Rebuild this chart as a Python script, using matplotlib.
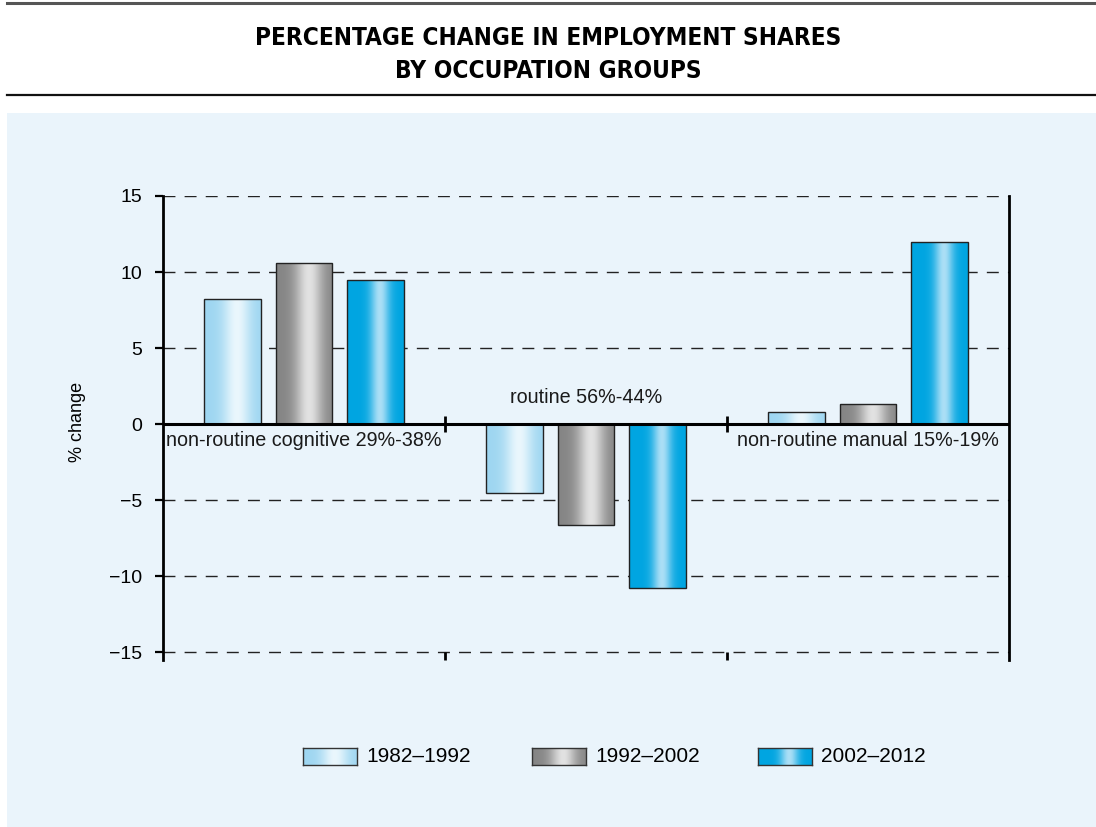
import numpy as np
import matplotlib
matplotlib.use("Agg")
import matplotlib.pyplot as plt
from matplotlib.lines import Line2D
from matplotlib.patches import Rectangle

# ---- data -------------------------------------------------------------
categories = ["non-routine cognitive 29%-38%", "routine 56%-44%",
              "non-routine manual 15%-19%"]
series = ["1982–1992", "1992–2002", "2002–2012"]
v_1982_1992 = [8.2, -4.5, 0.8]
v_1992_2002 = [10.6, -6.6, 1.3]
v_2002_2012 = [9.5, -10.8, 12.0]
yticks = [-15, -10, -5, 0, 5, 10, 15]
ytick_labels = ["\u221215", "\u221210", "\u22125", "0", "5", "10", "15"]
title_lines = ["PERCENTAGE CHANGE IN EMPLOYMENT SHARES", "BY OCCUPATION GROUPS"]

values = [v_1982_1992, v_1992_2002, v_2002_2012]

# ---- styling ----------------------------------------------------------
W, H = 1096, 827
plt.rcParams["font.family"] = ["Liberation Sans", "DejaVu Sans"]
plt.rcParams["lines.scale_dashes"] = False
PANEL = "#eaf4fb"
# (edge colour, highlight colour, highlight width) for the shaded bars
shades = [("#9ed6f1", "#eaf7fd", 0.24),
          ("#858585", "#e2e2e2", 0.24),
          ("#00a5e1", "#abdff6", 0.17)]
CONDENSED = ["Liberation Sans Narrow", "DejaVu Sans Condensed", "DejaVu Sans"]


def gradient(edge, light, width, n=200):
    t = np.linspace(0, 1, n)
    w = np.exp(-((t - 0.58) / width) ** 2)
    e = np.array(matplotlib.colors.to_rgb(edge))
    c = np.array(matplotlib.colors.to_rgb(light))
    return (e[None, :] + (c - e)[None, :] * w[:, None])[None, :, :]


fig = plt.figure(figsize=(W / 100, H / 100), dpi=100)
fig.patch.set_facecolor("white")

# background panel and rules
fig.add_artist(Rectangle((7 / W, 0), 1 - 7 / W, (H - 113) / H,
                         transform=fig.transFigure, facecolor=PANEL,
                         edgecolor="none", zorder=0))
fig.add_artist(Line2D([7 / W, 1], [1 - 3 / H] * 2, transform=fig.transFigure,
                      color="#555555", lw=2.2))
fig.add_artist(Line2D([7 / W, 1], [1 - 95 / H] * 2, transform=fig.transFigure,
                      color="#111111", lw=1.6))

# title
for k, line in enumerate(title_lines):
    fig.text(0.5, 1 - (38 + 33 * k) / H, line, ha="center", va="center",
             fontsize=17.5, fontweight="bold", fontstretch="condensed",
             family=CONDENSED)

# ---- main axes --------------------------------------------------------
ax = fig.add_axes([163 / W, 1 - 660 / H, (1009 - 163) / W, (660 - 196) / H])
ax.set_facecolor("none")
ax.set_xlim(0, 3)
ax.set_ylim(-15.5, 15)

for y in yticks:
    if y != 0:
        ax.axhline(y, color="#222222", lw=1.0, ls=(0, (8.6, 6.6)), zorder=1)

x = np.arange(len(categories)) + 0.5
bar_w = 0.2
step = 0.253
for i, (vals, (edge, light, wd)) in enumerate(zip(values, shades)):
    xs = x + (i - 1) * step
    bars = ax.bar(xs, vals, width=bar_w, facecolor="none",
                  edgecolor="#222222", lw=1.0, zorder=3)
    grad = gradient(edge, light, wd)
    for b in bars:
        x0, y0 = b.get_x(), b.get_y()
        x1, y1 = x0 + b.get_width(), y0 + b.get_height()
        im = ax.imshow(grad, extent=(x0, x1, min(y0, y1), max(y0, y1)),
                       aspect="auto", interpolation="bilinear", zorder=2.5)
        im.set_clip_path(b)

ax.set_xlim(0, 3)
ax.set_ylim(-15.5, 15)

# zero line with crossing ticks at the group boundaries
ax.axhline(0, color="black", lw=2.2, zorder=4)
ax.plot([1, 2], [0, 0], ls="none", marker="|", ms=11, mew=2.0,
        color="black", zorder=4)

# category labels
for k, (xc, lab) in enumerate(zip(x, categories)):
    dy = 15 if k == 1 else -16
    ax.annotate(lab, (xc, 0), xytext=(0, dy), textcoords="offset points",
                ha="center", va="baseline", fontsize=14.2, color="#1a1a1a")

# spines and ticks
for s in ("top", "bottom"):
    ax.spines[s].set_visible(False)
for s in ("left", "right"):
    ax.spines[s].set_linewidth(2.0)
    ax.spines[s].set_color("black")
ax.set_yticks(yticks)
ax.set_yticklabels(ytick_labels)
ax.tick_params(axis="y", direction="out", length=6, width=1.6, pad=9,
               labelsize=14, colors="black")
ax.set_xticks([1, 2])
ax.set_xticklabels([])
ax.tick_params(axis="x", direction="in", length=6, width=2.0, colors="black")

fig.text(77 / W, 1 - 422 / H, "% change", rotation=90, ha="center",
         va="center", fontsize=13)

# ---- legend -----------------------------------------------------------
sw_x = [303, 532, 758]
for lab, sx, (edge, light, wd) in zip(series, sw_x, shades):
    lax = fig.add_axes([sx / W, 1 - 765 / H, 54 / W, 17 / H])
    lax.imshow(gradient(edge, light, wd), aspect="auto",
               interpolation="bilinear")
    lax.set_xticks([])
    lax.set_yticks([])
    for sp in lax.spines.values():
        sp.set_linewidth(1.0)
        sp.set_color("#333333")
    fig.text((sx + 63) / W, 1 - 757 / H, lab, ha="left", va="center",
             fontsize=15)

fig.savefig("out.png", dpi=100, facecolor=fig.get_facecolor())
